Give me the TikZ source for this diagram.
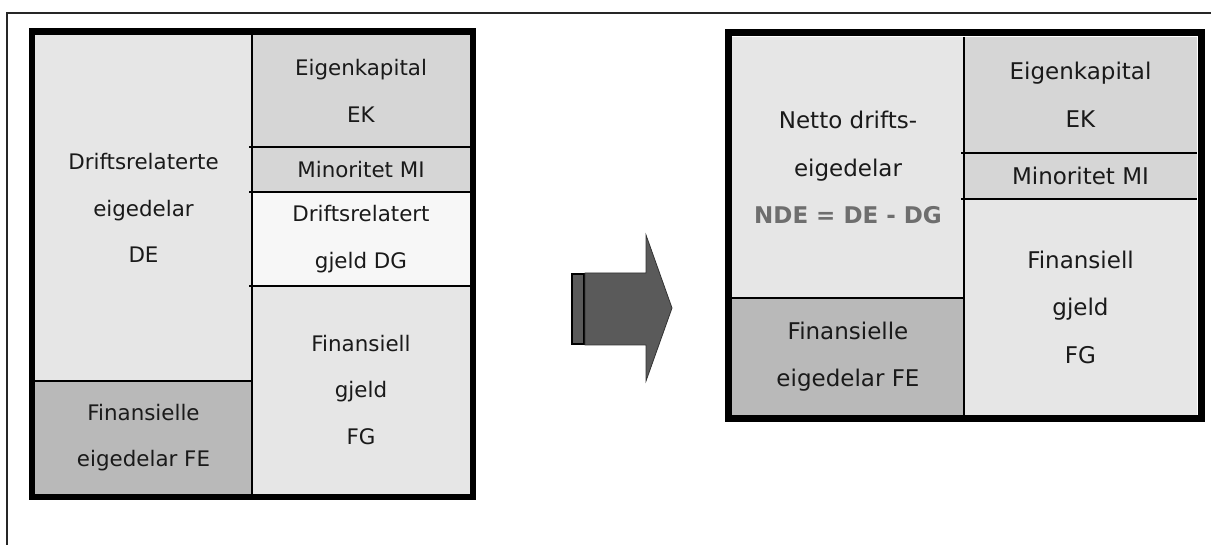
\documentclass[tikz,border=0pt]{standalone}
\usepackage{fontspec}
\setmainfont{DejaVu Sans}
\definecolor{ink}{HTML}{1A1A1A}
\definecolor{shadeA}{HTML}{E6E6E6}
\definecolor{shadeB}{HTML}{D6D6D6}
\definecolor{shadeC}{HTML}{B9B9B9}
\definecolor{shadeD}{HTML}{F7F7F7}
\definecolor{arrowfill}{HTML}{5A5A5A}
\definecolor{netgray}{HTML}{6E6E6E}
\begin{document}
\begin{tikzpicture}[x=1pt,y=-1pt,
  cell/.style={anchor=north west,inner sep=0pt,outer sep=0pt,align=center,text=ink},
  smalltxt/.style={font=\fontsize{21.4}{46.5}\selectfont},
  bigtxt/.style={font=\fontsize{23}{47.5}\selectfont},
  divider/.style={line width=1.5pt,draw=black},
  border/.style={line width=6.5pt,draw=black}]
\useasboundingbox (0,0) rectangle (1211,545);

% page frame
\draw[line width=1.6pt,draw=black!85] (7,545) -- (7,13) -- (1211,13);

% ---- balance sheet before
\node[cell,smalltxt,fill=shadeA,minimum width=217pt,minimum height=346pt] (de) at (35,35)
  {Driftsrelaterte\\eigedelar\\DE};
\node[cell,smalltxt,fill=shadeC,minimum width=217pt,minimum height=113pt] (fe) at (35,381)
  {Finansielle\\eigedelar FE};
\node[cell,smalltxt,fill=shadeB,minimum width=218pt,minimum height=112pt] (ek) at (252,35)
  {Eigenkapital\\EK};
\node[cell,smalltxt,fill=shadeB,minimum width=218pt,minimum height=45pt] (mi) at (252,147)
  {Minoritet MI};
\node[cell,smalltxt,fill=shadeD,minimum width=218pt,minimum height=94pt] (dg) at (252,192)
  {Driftsrelatert\\gjeld DG};
\node[cell,smalltxt,fill=shadeA,minimum width=218pt,minimum height=208pt] (fg) at (252,286)
  {Finansiell\\gjeld\\FG};
\draw[divider] (de.north east) -- (fe.south east);
\draw[divider] (fe.north west) -- (fe.north east);
\draw[divider] ([xshift=-3pt]ek.south west) -- (ek.south east);
\draw[divider] ([xshift=-3pt]mi.south west) -- (mi.south east);
\draw[divider] ([xshift=-3pt]dg.south west) -- (dg.south east);
\draw[border] (32,31.5) rectangle (473,497);

% ---- arrow
\draw[line width=2.5pt,fill=arrowfill] (572,274) rectangle (584,344);
\draw[line width=0.8pt,draw=black!80,fill=arrowfill]
  (585,273) -- (646,273) -- (646,235) -- (672,308) -- (646,381) -- (646,345) -- (585,345) -- cycle;

% ---- balance sheet after
\node[cell,bigtxt,fill=shadeA,minimum width=232pt,minimum height=261pt] (nde) at (732,37)
  {Netto drifts-\\eigedelar\\\textcolor{netgray}{\bfseries NDE = DE - DG}};
\node[cell,bigtxt,fill=shadeC,minimum width=232pt,minimum height=117pt] (fe2) at (732,298)
  {Finansielle\\eigedelar FE};
\node[cell,bigtxt,fill=shadeB,minimum width=233pt,minimum height=116pt] (ek2) at (964,37)
  {Eigenkapital\\EK};
\node[cell,bigtxt,fill=shadeB,minimum width=233pt,minimum height=46pt] (mi2) at (964,153)
  {Minoritet MI};
\node[cell,bigtxt,fill=shadeA,minimum width=233pt,minimum height=216pt] (fg2) at (964,199)
  {Finansiell\\gjeld\\FG};
\draw[divider] (nde.north east) -- (fe2.south east);
\draw[divider] (fe2.north west) -- (fe2.north east);
\draw[divider] ([xshift=-3pt]ek2.south west) -- (ek2.south east);
\draw[divider] ([xshift=-3pt]mi2.south west) -- (mi2.south east);
\draw[line width=7pt,draw=black] (728,33) rectangle (1201,419);
\end{tikzpicture}
\end{document}
